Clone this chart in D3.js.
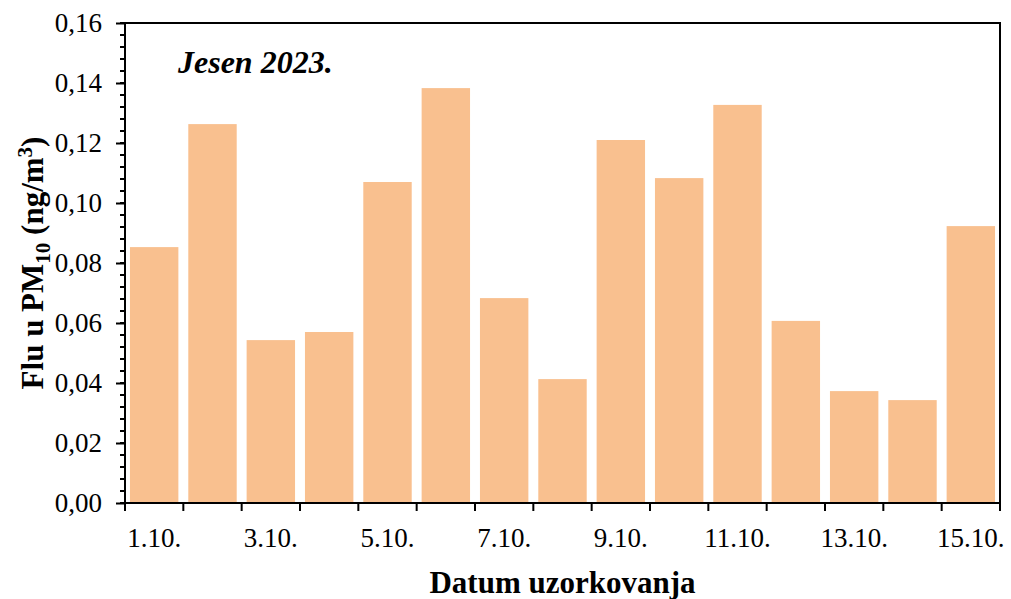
<!DOCTYPE html>
<html>
<head>
<meta charset="utf-8">
<script src="https://cdn.jsdelivr.net/npm/d3@7"></script>
<style>
  body { margin: 0; background: #fff; }
  text { font-family: "Liberation Serif", "Times New Roman", serif; fill: #000; }
</style>
</head>
<body>
<div id="chart"></div>
<script>
var days = ["1.10.", "2.10.", "3.10.", "4.10.", "5.10.", "6.10.", "7.10.", "8.10.",
            "9.10.", "10.10.", "11.10.", "12.10.", "13.10.", "14.10.", "15.10."];
var fluValues = [0.0853, 0.1263, 0.0543, 0.0570, 0.1070, 0.1383, 0.0683, 0.0413,
                 0.1210, 0.1083, 0.1327, 0.0607, 0.0373, 0.0343, 0.0923];
var yTicks = [0, 0.02, 0.04, 0.06, 0.08, 0.10, 0.12, 0.14, 0.16];
var shownDays = ["1.10.", "3.10.", "5.10.", "7.10.", "9.10.", "11.10.", "13.10.", "15.10."];

var margin = {top: 23, right: 11, bottom: 96, left: 125},
    width = 1011 - margin.left - margin.right,
    height = 599 - margin.top - margin.bottom;

var svg = d3.select("#chart").append("svg")
    .attr("width", 1011)
    .attr("height", 599)
  .append("g")
    .attr("transform", "translate(" + margin.left + "," + margin.top + ")");

var xScale = d3.scaleBand().domain(days).range([0, width])
    .paddingInner(0.17).paddingOuter(0.085);
var yScale = d3.scaleLinear().domain([0, 0.16]).range([height, 0]);
var fmt = function(d) { return d3.format(".2f")(d).replace(".", ","); };

// bars
svg.selectAll(".bar")
  .data(fluValues)
  .enter().append("rect")
  .attr("class", "bar")
  .attr("x", function(d, i) { return xScale(days[i]); })
  .attr("y", function(d) { return yScale(d); })
  .attr("width", xScale.bandwidth())
  .attr("height", function(d) { return height - yScale(d); })
  .style("fill", "#f9c08f");

// frame
svg.append("rect")
  .attr("width", width).attr("height", height)
  .style("fill", "none").style("stroke", "#000").style("stroke-width", 2);

// y minor ticks
var minor = d3.range(0, 0.1601, 0.004);
svg.append("g").selectAll("line")
  .data(minor).enter().append("line")
  .attr("x1", -5).attr("x2", 0)
  .attr("y1", function(d) { return yScale(d); })
  .attr("y2", function(d) { return yScale(d); })
  .style("stroke", "#000").style("stroke-width", 2);

// y axis
var yAxis = d3.axisLeft(yScale).tickValues(yTicks).tickFormat(fmt).tickSize(9).tickPadding(14);
var gy = svg.append("g").call(yAxis);
gy.select(".domain").remove();
gy.selectAll("line").style("stroke-width", 2);
gy.selectAll("text").style("font-size", "27px").style("font-family", "Liberation Serif");

// x axis: ticks at band boundaries
var bounds = d3.range(days.length + 1).map(function(i) { return i * width / days.length; });
svg.append("g").selectAll("line")
  .data(bounds).enter().append("line")
  .attr("x1", function(d) { return d; }).attr("x2", function(d) { return d; })
  .attr("y1", height).attr("y2", height + 8)
  .style("stroke", "#000").style("stroke-width", 2);

svg.append("g").selectAll("text")
  .data(shownDays).enter().append("text")
  .attr("x", function(d) { return xScale(d) + xScale.bandwidth() / 2; })
  .attr("y", height + 44)
  .attr("text-anchor", "middle")
  .style("font-size", "27px")
  .text(function(d) { return d; });

// axis titles
svg.append("text")
  .attr("x", width / 2)
  .attr("y", height + 90)
  .attr("text-anchor", "middle")
  .style("font-size", "31px").style("font-weight", "bold")
  .text("Datum uzorkovanja");

var yt = svg.append("text")
  .attr("transform", "translate(-82," + (height / 2) + ") rotate(-90)")
  .attr("text-anchor", "middle")
  .style("font-size", "31px").style("font-weight", "bold");
yt.append("tspan").text("Flu u PM");
yt.append("tspan").attr("dy", 7).style("font-size", "21px").text("10");
yt.append("tspan").attr("dy", -7).text(" (ng/m");
yt.append("tspan").attr("dy", -11).style("font-size", "21px").text("3");
yt.append("tspan").attr("dy", 11).text(")");

// season label
svg.append("text")
  .attr("x", 53)
  .attr("y", 50)
  .style("font-size", "32px").style("font-weight", "bold").style("font-style", "italic")
  .text("Jesen 2023.");
</script>
</body>
</html>
